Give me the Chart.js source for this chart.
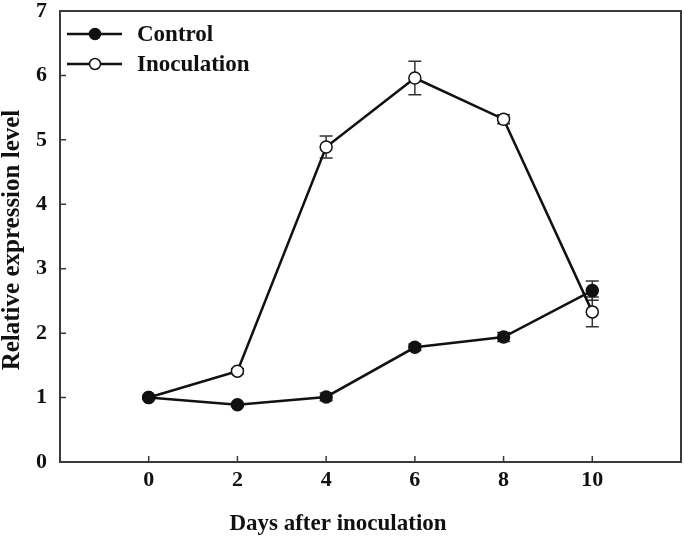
<!DOCTYPE html>
<html>
<head>
<meta charset="utf-8">
<script src="https://cdn.jsdelivr.net/npm/chart.js@4.4.0/dist/chart.umd.min.js"></script>
<style>
html,body{margin:0;padding:0;background:#fff;}
#wrap{width:685px;height:537px;position:relative;}
</style>
</head>
<body>
<div id="wrap"><canvas id="c" width="685" height="537"></canvas></div>
<script>
const days = [0, 2, 4, 6, 8, 10];
const controlValues = [1.00, 0.89, 1.01, 1.78, 1.94, 2.66];
const controlErrors = [0.02, 0.03, 0.06, 0.05, 0.07, 0.15];
const inoculationValues = [1.00, 1.41, 4.89, 5.96, 5.32, 2.33];
const inoculationErrors = [0.02, 0.04, 0.17, 0.26, 0.07, 0.23];
const seriesLabels = ['Control', 'Inoculation'];
const xTitle = 'Days after inoculation';
const yTitle = 'Relative expression level';

const FONT = 'Liberation Serif, Times New Roman, serif';
const INK = '#111';
const FRAME = '#3a3a3a';

function pts(vals){ return days.map((d,i)=>({x:d, y:vals[i]})); }

const errorBars = {
  id:'errorBars',
  beforeDatasetsDraw(chart){
    const ctx = chart.ctx, xs = chart.scales.x, ys = chart.scales.y;
    const errs = [controlErrors, inoculationErrors];
    const vals = [controlValues, inoculationValues];
    ctx.save();
    ctx.strokeStyle = '#333';
    ctx.lineWidth = 1.5;
    errs.forEach((e,k)=>{
      days.forEach((d,i)=>{
        const x = xs.getPixelForValue(d);
        const yt = ys.getPixelForValue(vals[k][i]+e[i]);
        const yb = ys.getPixelForValue(vals[k][i]-e[i]);
        ctx.beginPath();
        ctx.moveTo(x, yt); ctx.lineTo(x, yb);
        ctx.moveTo(x-6.5, yt); ctx.lineTo(x+6.5, yt);
        ctx.moveTo(x-6.5, yb); ctx.lineTo(x+6.5, yb);
        ctx.stroke();
      });
    });
    ctx.restore();
  }
};

const frame = {
  id:'frame',
  afterDraw(chart){
    const ctx = chart.ctx, a = chart.chartArea, xs = chart.scales.x, ys = chart.scales.y;
    ctx.save();
    ctx.strokeStyle = FRAME;
    ctx.lineWidth = 2;
    ctx.strokeRect(a.left, a.top, a.right-a.left, a.bottom-a.top);
    ctx.lineWidth = 1.5;
    ctx.beginPath();
    xs.ticks.forEach(t=>{
      const x = xs.getPixelForValue(t.value);
      ctx.moveTo(x, a.bottom); ctx.lineTo(x, a.bottom-6);
    });
    ys.ticks.forEach(t=>{
      if (t.value<=0 || t.value>=7) return;
      const y = ys.getPixelForValue(t.value);
      ctx.moveTo(a.left, y); ctx.lineTo(a.left+6, y);
    });
    ctx.stroke();

    // axis titles
    ctx.fillStyle = INK;
    ctx.font = 'bold 23px ' + FONT;
    ctx.textAlign = 'center';
    ctx.textBaseline = 'middle';
    ctx.fillText(xTitle, 338, 524);
    ctx.save();
    ctx.translate(13, 240);
    ctx.rotate(-Math.PI/2);
    ctx.font = 'bold 25px ' + FONT;
    ctx.fillText(yTitle, 0, 0);
    ctx.restore();

    // legend
    const fills = [INK, '#fff'];
    seriesLabels.forEach((lab,k)=>{
      const y = a.top + 23 + k*30;
      const x0 = a.left + 7, x1 = a.left + 62, xm = a.left + 35;
      ctx.strokeStyle = INK;
      ctx.lineWidth = 2.5;
      ctx.beginPath(); ctx.moveTo(x0,y); ctx.lineTo(x1,y); ctx.stroke();
      ctx.beginPath(); ctx.arc(xm, y, 5.5, 0, Math.PI*2);
      ctx.fillStyle = fills[k]; ctx.fill();
      ctx.lineWidth = 1.5; ctx.stroke();
      ctx.fillStyle = INK;
      ctx.font = 'bold 23px ' + FONT;
      ctx.textAlign = 'left';
      ctx.textBaseline = 'middle';
      ctx.fillText(lab, a.left + 77, y + 1);
    });
    ctx.restore();
  }
};

new Chart(document.getElementById('c'), {
  type:'scatter',
  data:{
    datasets:[
      {label:seriesLabels[0], data:pts(controlValues), showLine:true,
       borderColor:INK, borderWidth:2.5, pointRadius:6, pointBackgroundColor:INK,
       pointBorderColor:INK, pointBorderWidth:1.5, order:1},
      {label:seriesLabels[1], data:pts(inoculationValues), showLine:true,
       borderColor:INK, borderWidth:2.5, pointRadius:6, pointBackgroundColor:'#fff',
       pointBorderColor:INK, pointBorderWidth:1.5, order:2}
    ]
  },
  options:{
    responsive:false,
    animation:false,
    layout:{autoPadding:false, padding:{top:11, right:4, left:0, bottom:0}},
    plugins:{legend:{display:false}, tooltip:{enabled:false}},
    scales:{
      x:{
        type:'linear', min:-2, max:12,
        grid:{display:false, drawTicks:false},
        border:{display:false},
        afterBuildTicks(s){ s.ticks = s.ticks.filter(t=>t.value>=0 && t.value<=10); },
        afterFit(s){ s.height = 75; s.paddingLeft = 0; s.paddingRight = 0; },
        ticks:{stepSize:2, padding:5, color:INK, font:{family:FONT, size:22, weight:'bold'}, maxRotation:0}
      },
      y:{
        type:'linear', min:0, max:7,
        grid:{display:false, drawTicks:false},
        border:{display:false},
        afterFit(s){ s.width = 60; s.paddingTop = 0; s.paddingBottom = 0; },
        ticks:{stepSize:1, padding:13, color:INK, font:{family:FONT, size:22, weight:'bold'}}
      }
    }
  },
  plugins:[errorBars, frame]
});
</script>
</body>
</html>
